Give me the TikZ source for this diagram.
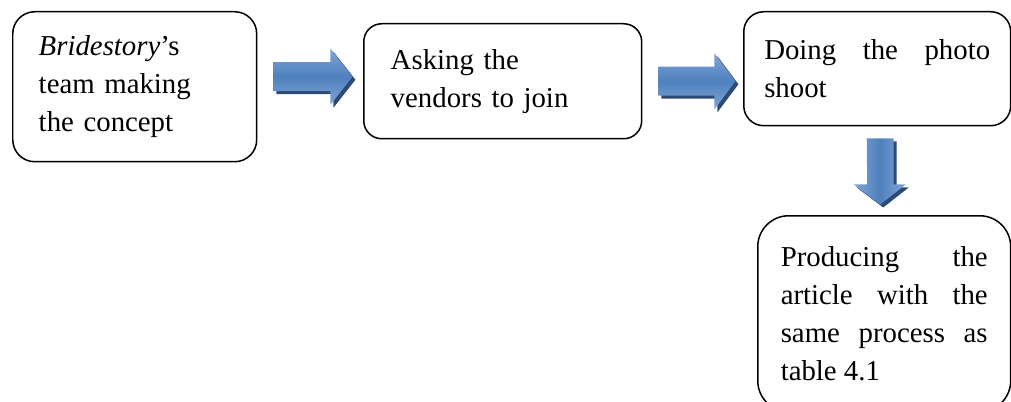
\documentclass[tikz,border=0pt]{standalone}
\usepackage{fontspec}
\setmainfont{Liberation Serif}
\usetikzlibrary{calc,shadows}
\definecolor{arrowlight}{RGB}{128,164,214}
\definecolor{arrowmid}{RGB}{79,129,189}
\definecolor{arrowdark}{RGB}{44,74,116}
\hbadness=10000

\begin{document}
\begin{tikzpicture}[x=.02cm,y=-.02cm,line width=.03cm,
  box/.style={draw, anchor=north west, inner sep=0pt, font=\fontsize{16.4pt}{21.8pt}\selectfont},
  shade/.style={general shadow={fill=arrowdark, shadow xshift=.06cm, shadow yshift=-.06cm}},
  rarrow/.style={shade, top color=arrowlight, bottom color=arrowlight, middle color=arrowmid},
  darrow/.style={shade, left color=arrowlight, right color=arrowlight, middle color=arrowmid}]
\useasboundingbox (0,0) rectangle (1011,402);
% the four steps
\node[box, rounded corners=.44cm, minimum width=4.88cm, minimum height=3cm, text width=3.84cm, align=left] (concept) at (12,11) {\textit{Bridestory}'s\\ team making\\ the concept};
\node[box, rounded corners=.36cm, minimum width=5.56cm, minimum height=2.3cm, text width=4.48cm, align=left] (vendors) at (363,23) {Asking the\\ vendors to join};
\node[box, rounded corners=.4cm, minimum width=5.34cm, minimum height=2.28cm, text width=4.52cm, align=justify] (shoot) at (743,11) {Doing the photo\linebreak shoot};
\node[box, rounded corners=.62cm, minimum width=5.06cm, minimum height=3.92cm, text width=4.14cm, align=justify] (article) at (757,215) {Producing the\linebreak article with the\linebreak same process as\linebreak table 4.1};
% block arrows
\coordinate (a1) at ($(concept.east)+(16,-10)$);
\coordinate (a2) at ($(vendors.east)+(16,0)$);
\coordinate (d1) at ($(shoot.south)+(3,12)$);
\path[rarrow] (a1) ++(0,-14.5) -- ++(57,0) -- ++(0,-13.5) -- ++(22,28) -- ++(-22,28) -- ++(0,-13.5) -- ++(-57,0) -- cycle;
\path[rarrow] (a2) ++(0,-14.5) -- ++(56,0) -- ++(0,-13.5) -- ++(21,28) -- ++(-21,28) -- ++(0,-13.5) -- ++(-56,0) -- cycle;
\path[darrow] (d1) ++(-13.5,0) -- ++(27,0) -- ++(0,46) -- ++(12,0) -- ++(-25.5,20) -- ++(-26.5,-20) -- ++(13.5,0) -- cycle;
\end{tikzpicture}
\end{document}
